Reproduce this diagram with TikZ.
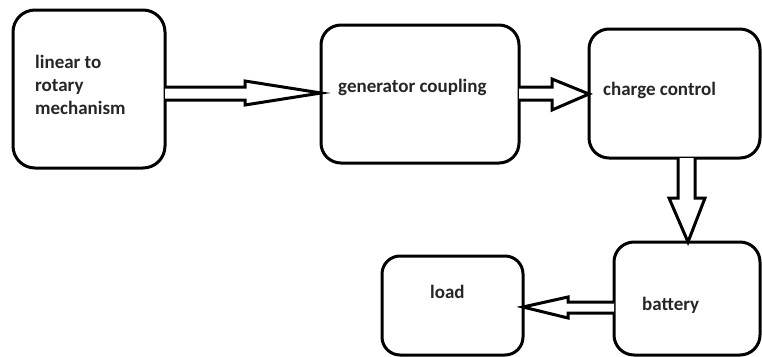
\documentclass[tikz,border=0pt]{standalone}
\usepackage{fontspec}
\setmainfont{Carlito}
\begin{document}
\begin{tikzpicture}[x=1pt,y=-1pt,
  blk/.style={draw=black, line width=3pt, rounded corners=20pt, inner sep=0pt, outer sep=0pt},
  lbl/.style={font=\fontsize{19}{23}\selectfont\bfseries, text=black!85, inner sep=0pt, anchor=base west, align=left},
  hollow/.style={draw=black, line width=3pt, fill=white, line join=miter}]
\useasboundingbox (0,0) rectangle (762,356);
\node[blk, minimum width=152pt, minimum height=158pt, rounded corners=22pt] (b1) at (89,89) {};
\node[blk, minimum width=198pt, minimum height=138pt] (b2) at (420,94) {};
\node[blk, minimum width=171pt, minimum height=129pt] (b3) at (674.5,93.5) {};
\node[blk, minimum width=146pt, minimum height=113pt] (b4) at (687,298.5) {};
\node[blk, minimum width=141pt, minimum height=99pt, rounded corners=18pt] (b5) at (452.5,305.5) {};
\node[lbl] (t1a) at (35,68) {linear to};
\node[lbl] (t1b) at (35,91) {rotary};
\node[lbl] (t1c) at (35,114) {mechanism};
\node[lbl] (t2) at (338,92) {generator coupling};
\node[lbl] (t3) at (603,95) {charge control};
\node[lbl] (t4) at (642,310) {battery};
\node[lbl] (t5) at (430,298) {load};
\draw[hollow] (b1.east |- 0,87) -- (245,87) -- (245,81) -- (b2.west |- 0,93) -- (245,105) -- (245,100) -- (b1.east |- 0,100);
\draw[hollow] (b2.east |- 0,87) -- (552,87) -- (552,79) -- (b3.west |- 0,94) -- (552,110) -- (552,100) -- (b2.east |- 0,100);
\draw[hollow] (678,0 |- b3.south) -- (678,198) -- (669,198) -- (688,0 |- b4.north) -- (705,198) -- (695,198) -- (695,0 |- b3.south);
\draw[hollow] (b4.west |- 0,302) -- (568,302) -- (568,297) -- (b5.east |- 0,307) -- (568,318) -- (568,313) -- (b4.west |- 0,313);
\end{tikzpicture}
\end{document}
